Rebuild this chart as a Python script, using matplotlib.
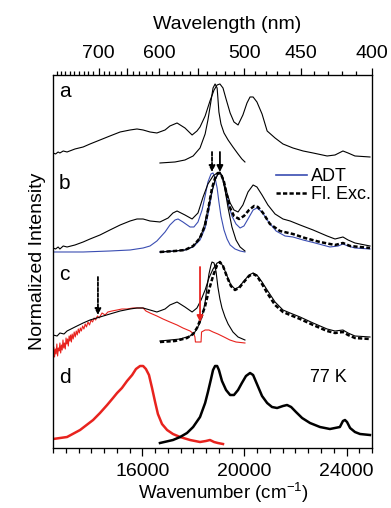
import numpy as np
import matplotlib.pyplot as plt
from matplotlib.lines import Line2D

plt.rcParams['font.family'] = ['Liberation Sans', 'DejaVu Sans']
plt.rcParams['mathtext.default'] = 'regular'

# curves: (wavenumber cm-1, normalized intensity above panel baseline)
a_abs = [(12500, .10), (12600, .09), (12700, .11), (12770, .10), (12900, .12), (13050, .11),
         (13360, .14), (13680, .16), (13950, .19),
         (14340, .23), (14730, .27), (15130, .31), (15520, .33), (15790, .34), (16030, .33),
         (16300, .31), (16570, .30), (16890, .33), (17080, .37), (17360, .40), (17670, .35),
         (17950, .28), (18140, .32), (18260, .36), (18460, .47), (18650, .62), (18810, .73),
         (18930, .78), (19040, .79), (19160, .75), (19280, .64), (19440, .50), (19590, .41),
         (19750, .38), (19940, .48), (20100, .60), (20220, .66), (20340, .66), (20490, .61),
         (20690, .49), (20890, .32), (21200, .25), (21510, .19), (21900, .15), (22300, .12),
         (22690, .10), (23240, .07), (23550, .08), (23860, .12), (24060, .10), (24330, .07),
         (24920, .06)]
a_narrow = [(16690, .00), (17280, .01), (17670, .03), (17990, .07), (18260, .15), (18460, .29),
            (18570, .43), (18690, .62), (18770, .75), (18850, .79), (18930, .75), (18960, .65),
            (19000, .51), (19080, .39), (19200, .30), (19360, .23), (19550, .16), (19750, .09),
            (19900, .04), (20020, .01)]

b_abs = [(12500, .04), (12600, .03), (12700, .05), (12770, .03), (12900, .06), (13050, .05),
         (13360, .07), (13680, .10), (13950, .13),
         (14340, .17), (14730, .22), (15130, .27), (15520, .31), (15790, .33), (16030, .33),
         (16300, .31), (16690, .30), (17010, .34), (17200, .39), (17360, .41), (17670, .37),
         (17950, .33), (18180, .39), (18380, .55), (18570, .68), (18770, .76), (18930, .79),
         (19040, .80), (19160, .74), (19280, .62), (19440, .49), (19590, .42), (19750, .40),
         (19940, .47), (20140, .60), (20340, .67), (20490, .65), (20690, .57), (20920, .47),
         (21200, .38), (21510, .33), (21790, .31), (22180, .27), (22690, .22), (23240, .16),
         (23550, .13), (23860, .15), (24060, .12), (24330, .09), (24920, .06)]
b_adt_em = [(12500, .00), (13680, .00), (14730, .01), (15520, .02), (16030, .04), (16300, .06),
            (16570, .11), (16890, .20), (17080, .27), (17280, .32), (17400, .33), (17590, .30),
            (17870, .25), (18020, .25), (18180, .30), (18340, .42), (18460, .56), (18570, .70),
            (18690, .78), (18770, .79), (18850, .74), (18930, .64), (19000, .50), (19080, .36),
            (19200, .22), (19320, .13), (19440, .07), (19630, .03), (19830, .01), (20020, .00)]
b_adt_abs = [(16690, .00), (17280, .01), (17670, .02), (17990, .05), (18260, .12), (18460, .24),
             (18610, .42), (18730, .60), (18850, .72), (18960, .78), (19040, .79), (19120, .76),
             (19240, .64), (19360, .49), (19510, .36), (19670, .28), (19830, .24), (19980, .26),
             (20140, .33), (20340, .42), (20490, .44), (20690, .40), (20920, .31), (21240, .21),
             (21590, .16), (21900, .15), (22300, .12), (22770, .09), (23350, .05), (23670, .06),
             (23860, .08), (24060, .06), (24330, .04), (24920, .03)]
b_flexc = [(16690, .00), (17280, .01), (17670, .02), (17990, .06), (18260, .14), (18460, .27),
           (18610, .47), (18730, .64), (18850, .74), (18960, .79), (19080, .78), (19200, .70),
           (19320, .56), (19440, .44), (19590, .36), (19790, .33), (19980, .36), (20180, .42),
           (20380, .46), (20530, .45), (20730, .39), (21000, .28), (21390, .21), (21900, .18),
           (22370, .14), (22960, .10), (23550, .07), (23860, .09), (24140, .06), (24530, .05),
           (24920, .04)]
b_narrow = [(16690, .00), (17280, .01), (17670, .02), (17950, .05), (18180, .11), (18380, .22),
            (18530, .38), (18690, .57), (18850, .72), (18960, .78), (19040, .79), (19120, .76),
            (19240, .62), (19360, .44), (19510, .25), (19670, .12), (19830, .05), (20020, .01)]

c_abs = [(12500, .06), (12660, .05), (12770, .08), (12930, .07), (13050, .10), (13360, .14),
         (13680, .18), (13950, .21), (14340, .24), (14730, .27), (15130, .30), (15520, .32),
         (15790, .33), (16030, .33), (16300, .31), (16570, .29), (16890, .32), (17080, .36),
         (17360, .39), (17670, .34), (17950, .29), (18140, .33), (18300, .41), (18460, .51),
         (18610, .63), (18770, .72), (18930, .78), (19040, .79), (19160, .75), (19320, .65),
         (19470, .56), (19630, .52), (19790, .54), (19980, .60), (20180, .66), (20340, .68),
         (20490, .66), (20690, .59), (20890, .51), (21200, .39), (21510, .31), (21790, .28),
         (22180, .24), (22690, .18), (23240, .12), (23550, .10), (23860, .11), (24060, .08),
         (24330, .05), (24920, .04)]
c_flexc = [(16690, -.01), (17280, .00), (17750, .03), (17990, .07), (18140, .13), (18300, .23),
           (18460, .35), (18610, .51), (18770, .65), (18930, .76), (19040, .79), (19160, .75),
           (19320, .64), (19470, .55), (19630, .51), (19790, .53), (19980, .59), (20180, .65),
           (20340, .67), (20490, .65), (20690, .57), (20890, .48), (21200, .36), (21510, .29),
           (21790, .26), (22180, .22), (22690, .16), (23240, .10), (23550, .08), (23860, .09),
           (24060, .06), (24330, .03), (24920, .02)]
c_narrow = [(16690, .00), (17480, .02), (17870, .05), (18060, .09), (18260, .18), (18380, .29),
            (18460, .39), (18530, .53), (18610, .67), (18690, .76), (18730, .79), (18810, .78),
            (18890, .69), (18960, .54), (19040, .42), (19120, .33), (19240, .24), (19360, .17),
            (19550, .09), (19750, .04), (20020, .01)]
c_red = [(12500, -.12), (12530, -.06), (12560, -.16), (12590, -.08), (12620, -.13), (12650, -.03),
         (12680, -.15), (12710, -.07), (12740, -.10), (12770, -.02), (12800, -.12), (12830, -.04),
         (12860, -.09), (12890, .01), (12920, -.07), (12950, -.02), (12980, -.08), (13010, .03),
         (13040, -.03), (13070, .02), (13100, -.05), (13130, .05), (13160, .00), (13190, .06),
         (13220, -.01), (13250, .07), (13290, .02), (13330, .09), (13370, .04), (13410, .10),
         (13450, .06), (13490, .12), (13530, .08), (13570, .13), (13610, .10), (13660, .15),
         (13710, .12), (13760, .17), (13810, .14), (13870, .19), (13930, .16), (13990, .21),
         (14050, .19), (14110, .23), (14170, .21), (14240, .25), (14310, .23), (14420, .28),
         (14540, .26), (14650, .29), (14810, .30), (15010, .31), (15200, .32), (15400, .32),
         (15630, .33), (15830, .33), (16030, .33), (16140, .30), (16300, .28), (16570, .25),
         (16810, .22), (17080, .19), (17360, .16), (17590, .13), (17870, .10), (18020, .07),
         (18060, .04), (18080, -.01), (18300, -.01), (18320, .09), (18460, .11), (18610, .11),
         (18770, .09), (18960, .07), (19200, .04), (19430, .01), (19670, -.01), (20020, -.02)]

d_red = [(12500, .04), (13050, .06), (13560, .13), (14070, .23), (14340, .30), (14620, .38),
         (14850, .45), (15010, .50), (15200, .55), (15400, .62), (15600, .68), (15750, .74),
         (15910, .77), (16030, .77), (16140, .74), (16260, .68), (16380, .55), (16500, .41),
         (16610, .29), (16770, .19), (16970, .13), (17200, .09), (17480, .06), (17870, .03),
         (18260, .01), (18490, .02), (18650, .03), (18810, .01), (18960, .00), (19160, -.01)]
d_black = [(16690, .00), (17200, .03), (17480, .06), (17750, .10), (17990, .16), (18260, .26),
           (18460, .40), (18570, .51), (18690, .64), (18770, .73), (18850, .77), (18930, .77),
           (19000, .73), (19120, .62), (19280, .53), (19440, .48), (19590, .48), (19750, .53),
           (19900, .60), (20060, .67), (20220, .70), (20340, .68), (20490, .59), (20690, .47),
           (20890, .40), (21080, .36), (21280, .35), (21510, .37), (21670, .38), (21830, .36),
           (22020, .31), (22260, .25), (22570, .20), (22960, .16), (23350, .14), (23740, .16),
           (23860, .22), (23940, .23), (24020, .21), (24140, .15), (24330, .11), (24530, .09),
           (24920, .08)]

# vertical offsets of the stacked panels
off_a, off_b, off_c, off_d = 2.85, 1.96, 1.07, 0.05

# arrows: (wavenumber, tail, tip) relative to panel baseline
b_arrow_dash = (18730, 1.00, 0.80)
b_arrow_solid = (19040, 1.00, 0.80)
c_arrow_red = (18260, 0.74, 0.19)
c_arrow_dash = (14260, 0.64, 0.26)

wl_major = [700, 650, 600, 550, 500, 450, 400]
wl_labels = ['700', '', '600', '', '500', '450', '400']

blue = '#3a4db2'
red = '#e8231e'


def xy(curve, off):
    arr = np.array(curve, dtype=float)
    return arr[:, 0], arr[:, 1] + off


fig = plt.figure(figsize=(3.91, 5.08), dpi=100)
ax = fig.add_axes([0.1356, 0.1181, 0.8159, 0.7343])

thin = 0.8
# panel a
ax.plot(*xy(a_abs, off_a), color='k', lw=thin)
ax.plot(*xy(a_narrow, off_a), color='k', lw=thin)
# panel b
ax.plot(*xy(b_adt_em, off_b), color=blue, lw=thin)
ax.plot(*xy(b_adt_abs, off_b), color=blue, lw=thin)
ax.plot(*xy(b_narrow, off_b), color='k', lw=thin)
ax.plot(*xy(b_abs, off_b), color='k', lw=thin)
ax.plot(*xy(b_flexc, off_b), color='k', lw=1.8, dashes=(1.7, 0.9))
# panel c
ax.plot(*xy(c_red, off_c), color=red, lw=thin)
ax.plot(*xy(c_narrow, off_c), color='k', lw=thin)
ax.plot(*xy(c_abs, off_c), color='k', lw=thin)
ax.plot(*xy(c_flexc, off_c), color='k', lw=1.8, dashes=(1.7, 0.9))
# panel d
ax.plot(*xy(d_red, off_d), color=red, lw=1.8)
ax.plot(*xy(d_black, off_d), color='k', lw=1.8)


def arrow(spec, off, color, ls):
    x, tail, tip = spec
    ax.annotate('', xy=(x, tip + off), xytext=(x, tail + off),
                arrowprops=dict(arrowstyle='-|>', color=color, lw=1.3, ls=ls,
                                mutation_scale=9, shrinkA=0, shrinkB=0))


arrow(b_arrow_dash, off_b, 'k', (0, (2, 1)))
arrow(b_arrow_solid, off_b, 'k', '-')
arrow(c_arrow_red, off_c, red, '-')
arrow(c_arrow_dash, off_c, 'k', (0, (2, 1)))

ax.set_xlim(12500, 25000)
ax.set_ylim(0, 3.73)
ax.set_yticks([])
ax.set_xticks([16000, 20000, 24000])
ax.set_xticks(np.arange(12500, 25001, 500), minor=True)
ax.tick_params(axis='x', which='major', direction='out', length=6, width=0.9, labelsize=14, pad=5)
ax.tick_params(axis='x', which='minor', direction='out', length=3.5, width=0.9)
for s in ax.spines.values():
    s.set_linewidth(0.9)

ax.set_ylabel('Normalized Intensity', fontsize=14, labelpad=5)
fig.text(0.570, 0.029, 'Wavenumber (cm$^{-1}$)', fontsize=13.5, ha='center', va='center')

ax2 = ax.twiny()
ax2.set_xlim(ax.get_xlim())
ax2.set_xticks([1e7 / w for w in wl_major])
ax2.set_xticklabels(wl_labels)
minor_nm = [w for w in range(410, 800, 10) if w not in wl_major]
ax2.set_xticks([1e7 / w for w in minor_nm], minor=True)
ax2.tick_params(axis='x', which='major', direction='out', length=5, width=0.9, labelsize=14, pad=4)
ax2.tick_params(axis='x', which='minor', direction='out', length=3, width=0.9)
fig.text(0.581, 0.951, 'Wavelength (nm)', fontsize=14, ha='center', va='center')

for lab, yf in zip(['a', 'b', 'c', 'd'], [0.957, 0.710, 0.466, 0.190]):
    ax.text(0.019, yf, lab, transform=ax.transAxes, fontsize=15, ha='left', va='center')
ax.text(0.862, 0.190, '77 K', transform=ax.transAxes, fontsize=13, ha='center', va='center')

handles = [Line2D([], [], color=blue, lw=1.2),
           Line2D([], [], color='k', lw=1.8, dashes=(1.7, 0.9))]
ax.legend(handles, ['ADT', 'Fl. Exc.'], loc='upper left', bbox_to_anchor=(0.7, 0.75),
          frameon=False, fontsize=13, handlelength=1.7, handletextpad=0.2,
          borderpad=0, borderaxespad=0, labelspacing=0.05)

fig.savefig('out.png', dpi=100)
